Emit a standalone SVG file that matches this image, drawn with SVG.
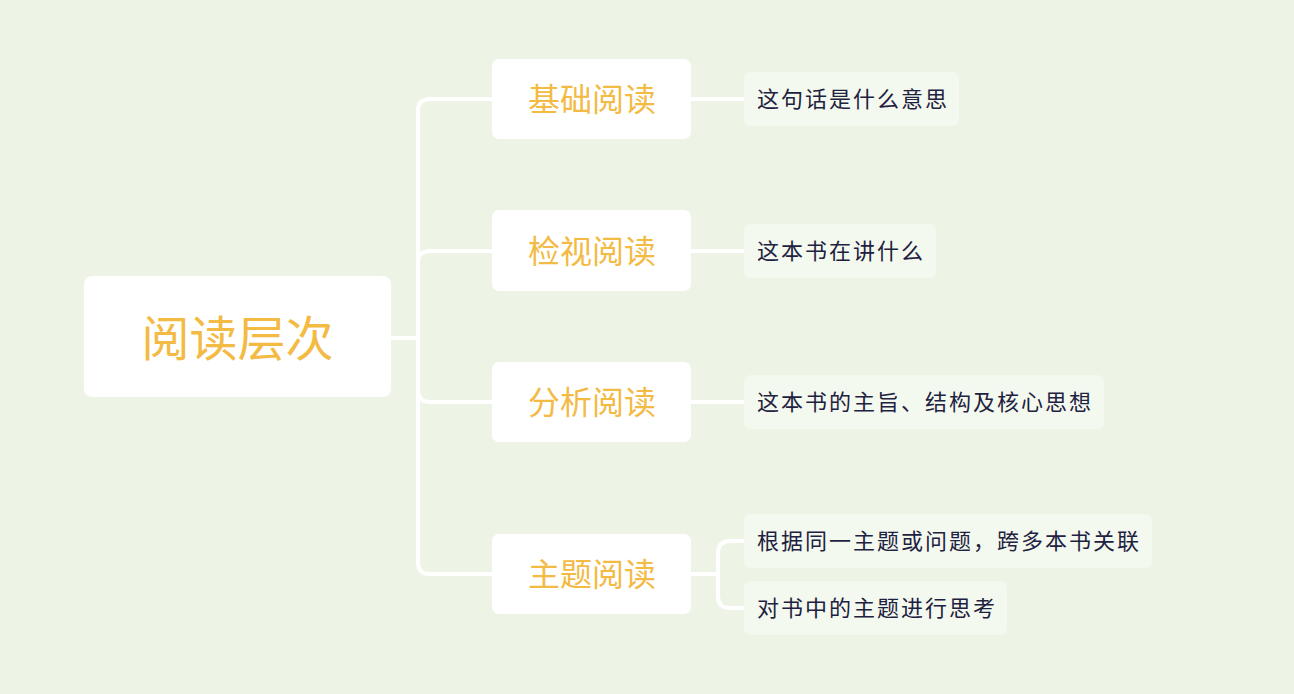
<svg xmlns="http://www.w3.org/2000/svg" width="1294" height="694" viewBox="0 0 1294 694">
<style>
.bg{fill:#EDF4E6}
.root rect,.l1 rect{fill:#FFFFFF}
.leaf rect{fill:#F4F9EF}
.conn path{fill:none;stroke:#FFFFFF;stroke-width:4;stroke-linecap:round}
text{font-family:"Noto Sans CJK SC","Noto Sans",sans-serif;dominant-baseline:central}
.root text{font-size:48px;fill:#F3BA44;text-anchor:middle}
.l1 text{font-size:32px;fill:#F3BA44;text-anchor:middle}
.leaf text{font-size:22px;fill:#1E2140;letter-spacing:2px}
</style>
<rect class="bg" x="0" y="0" width="1294" height="694"/>
<g class="conn" id="connectors">
<path d="M391,338 H418"/>
<path d="M418,338 V111 Q418,99 430,99 H492"/>
<path d="M418,338 V263 Q418,251 430,251 H492"/>
<path d="M418,338 V390 Q418,402 430,402 H492"/>
<path d="M418,338 V562 Q418,574 430,574 H492"/>
<path d="M691,99 H744"/>
<path d="M691,251 H744"/>
<path d="M691,402 H744"/>
<path d="M691,574 H718"/>
<path d="M718,574 V553 Q718,541 730,541 H744"/>
<path d="M718,574 V596 Q718,608 730,608 H744"/>
</g>
<g class="root" id="root"><rect x="84" y="276" width="307" height="121" rx="8"/><text x="237.5" y="335">阅读层次</text></g>
<g class="l1" id="n1"><rect x="492" y="59" width="199" height="80" rx="7"/><text x="592" y="97">基础阅读</text></g>
<g class="l1" id="n2"><rect x="492" y="210" width="199" height="81" rx="7"/><text x="592" y="249">检视阅读</text></g>
<g class="l1" id="n3"><rect x="492" y="362" width="199" height="80" rx="7"/><text x="592" y="400">分析阅读</text></g>
<g class="l1" id="n4"><rect x="492" y="534" width="199" height="80" rx="7"/><text x="592" y="572">主题阅读</text></g>
<g class="leaf" id="n1a"><rect x="744" y="72" width="215" height="54" rx="7"/><text x="757" y="97">这句话是什么意思</text></g>
<g class="leaf" id="n2a"><rect x="744" y="224" width="192" height="54" rx="7"/><text x="757" y="249">这本书在讲什么</text></g>
<g class="leaf" id="n3a"><rect x="744" y="375" width="360" height="54" rx="7"/><text x="757" y="400">这本书的主旨、结构及核心思想</text></g>
<g class="leaf" id="n4a"><rect x="744" y="514" width="408" height="54" rx="7"/><text x="757" y="539">根据同一主题或问题，跨多本书关联</text></g>
<g class="leaf" id="n4b"><rect x="744" y="581" width="263" height="54" rx="7"/><text x="757" y="606">对书中的主题进行思考</text></g>
</svg>
